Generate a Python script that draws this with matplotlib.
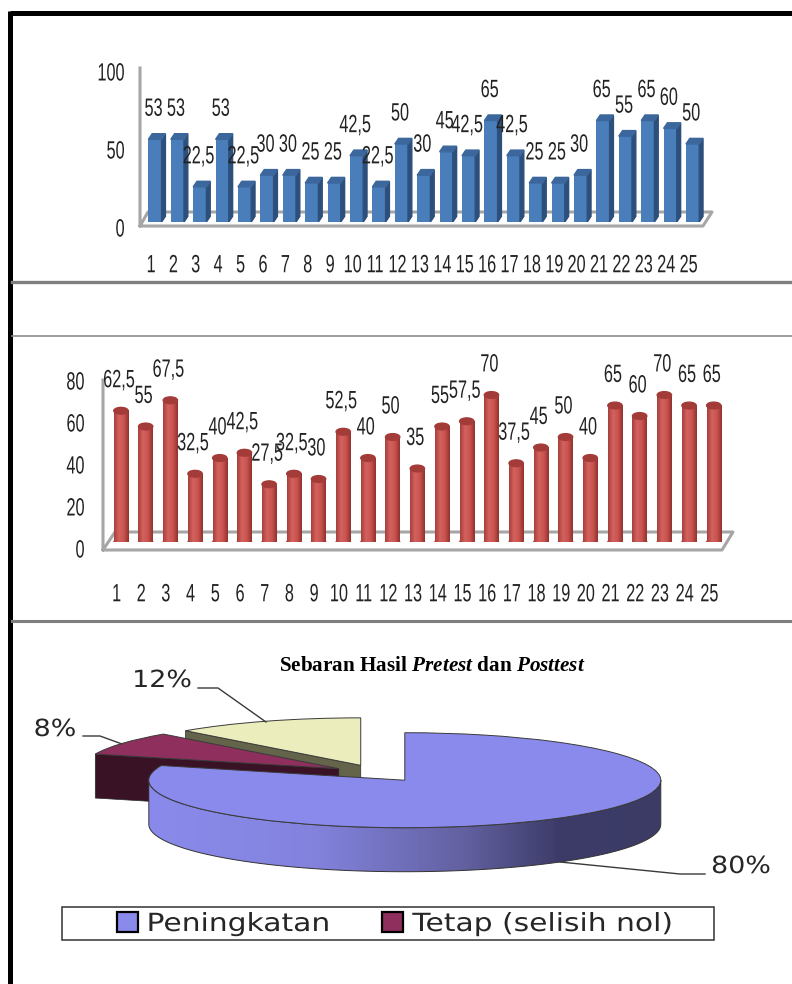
import numpy as np
import matplotlib
matplotlib.use("Agg")
import matplotlib.pyplot as plt
from matplotlib.colors import LinearSegmentedColormap
from matplotlib.patches import Ellipse, Patch, Polygon, Rectangle
from matplotlib.patheffects import AbstractPathEffect
from matplotlib.transforms import Affine2D

W, H = 792, 984

# data
hari = list(range(1, 26))
pretest = [53, 53, 22.5, 53, 22.5, 30, 30, 25, 25, 42.5, 22.5, 50, 30, 45, 42.5,
           65, 42.5, 25, 25, 30, 65, 55, 65, 60, 50]
posttest = [62.5, 55, 67.5, 32.5, 40, 42.5, 27.5, 32.5, 30, 52.5, 40, 50, 35, 55, 57.5,
            70, 37.5, 45, 50, 40, 65, 60, 70, 65, 65]
pre_ticks = [0, 50, 100]
post_ticks = [0, 20, 40, 60, 80]
pie_nilai = [80, 8, 12]
pie_label = ["80%", "8%", "12%"]
legend_label = ["Peningkatan", "Tetap (selisih nol)"]

FONT = "Liberation Sans"
SEMPIT = 0.65
plt.rcParams["mathtext.fontset"] = "custom"
plt.rcParams["mathtext.bfit"] = "Liberation Serif:italic:bold"
plt.rcParams["mathtext.rm"] = "Liberation Serif:bold"


class Regang(AbstractPathEffect):
    """Stretches a text horizontally, the source picture has squeezed/widened fonts"""
    def __init__(self, sx, anchor="center", dy=0):
        super().__init__()
        self.sx = sx
        self.anchor = anchor
        self.dy = dy

    def draw_path(self, renderer, gc, tpath, affine, rgbFace=None):
        ext = tpath.get_extents(affine)
        x0 = {"center": (ext.x0 + ext.x1) / 2, "left": ext.x0, "right": ext.x1}[self.anchor]
        a = affine + Affine2D().translate(-x0, 0).scale(self.sx, 1).translate(x0, self.dy)
        renderer.draw_path(gc, tpath, a, rgbFace)


def kotak(x0, y_top, x1, y_bot):
    # axes rectangle from pixel coordinates
    return [x0 / W, 1 - y_bot / H, (x1 - x0) / W, (y_bot - y_top) / H]


def label_angka(v):
    return f"{v:g}".replace(".", ",")


def sumbu_bar(ax, ticks, size, pad_x, pad_y, dy):
    ax.set_xticks([i - 0.18 for i in hari], [str(i) for i in hari])
    ax.set_yticks(ticks, [str(t) for t in ticks])
    ax.tick_params(length=0, labelsize=size, colors="#222222")
    ax.tick_params(axis="x", pad=pad_x)
    ax.tick_params(axis="y", pad=pad_y)
    for lab in ax.get_xticklabels():
        lab.set_family(FONT)
        lab.set_path_effects([Regang(SEMPIT)])
    for lab in ax.get_yticklabels():
        lab.set_family(FONT)
        lab.set_path_effects([Regang(SEMPIT, "right", dy)])
    for s in ax.spines.values():
        s.set_visible(False)
    ax.patch.set_alpha(0)


# frame, separators and chart floors in pixel coordinates
fig = plt.figure(figsize=(W / 100, H / 100), dpi=100)
bg = fig.add_axes([0, 0, 1, 1])
bg.set_xlim(0, W)
bg.set_ylim(H, 0)
bg.axis("off")
bg.plot([10, W], [13, 13], color="black", lw=3.6, solid_capstyle="butt")
bg.plot([10, 10], [11, H], color="black", lw=3.6, solid_capstyle="butt")
bg.plot([12, W], [282, 282], color="#7f7f7f", lw=2.4)
bg.plot([12, W], [336, 336], color="#8c8c8c", lw=1.2)
bg.plot([12, W], [621, 621], color="#7f7f7f", lw=2.2)

abu = "#a6a6a6"
bg.plot([140, 140, 703, 712, 148, 140], [68, 226, 226, 212, 212, 226], color=abu, lw=2.2)
bg.plot([103, 103, 722, 733, 115, 103], [380, 550, 550, 532, 532, 550], color=abu, lw=2.2)

# pretest: square 3d columns
ax1 = fig.add_axes(kotak(143.8, 66, 703.8, 222))
ax1.set_xlim(0.5, 25.5)
ax1.set_ylim(0, 100)
w1 = 0.59
ax1.bar(hari, pretest, width=w1, color="#4a7ebb", zorder=3)
dx, dy = 0.17, 3.6
for x, v in zip(hari, pretest):
    r = x + w1 / 2
    l = x - w1 / 2
    ax1.add_patch(Polygon([(r, 0), (r + dx, dy), (r + dx, v + dy), (r, v)], color="#2d4f7c", zorder=3))
    ax1.add_patch(Polygon([(l, v), (r, v), (r + dx, v + dy), (l + dx, v + dy)], color="#3c679c", zorder=3))
    t = ax1.annotate(label_angka(v), (x, v), xytext=(-1, 22), textcoords="offset points",
                     ha="center", va="center", fontsize=18, family=FONT, color="#222222",
                     annotation_clip=False, zorder=5)
    t.set_path_effects([Regang(SEMPIT)])
sumbu_bar(ax1, pre_ticks, 18, 22.5, 13.5, -5)

# posttest: cylinders
ax2 = fig.add_axes(kotak(108.6, 374, 726.1, 542))
ax2.set_xlim(0.5, 25.5)
ax2.set_ylim(0, 80)
w2 = 0.58
merah = LinearSegmentedColormap.from_list("merah", ["#a83f3c", "#d4625f", "#c9534f", "#93322f"])
gradien = np.linspace(0, 1, 40).reshape(1, -1)
ax2.bar(hari, posttest, width=w2, color="#c0504d", zorder=3)
for x, v in zip(hari, posttest):
    ax2.imshow(gradien, cmap=merah, extent=[x - w2 / 2, x + w2 / 2, 0, v], aspect="auto", zorder=3.1)
    ax2.add_patch(Ellipse((x, 0), w2, 2.6, color="#c0504d", zorder=3))
    ax2.add_patch(Ellipse((x, v), w2, 3.2, color="#a33b38", zorder=3.2))
    t = ax2.annotate(label_angka(v), (x, v), xytext=(-1.5, 22), textcoords="offset points",
                     ha="center", va="center", fontsize=18, family=FONT, color="#222222",
                     annotation_clip=False, zorder=5)
    t.set_path_effects([Regang(SEMPIT)])
ax2.set_xlim(0.5, 25.5)
ax2.set_ylim(0, 80)
sumbu_bar(ax2, post_ticks, 18, 29, 17, -6)

# exploded pie, one data unit = pie radius (256 x 47.5 px)
cx, cy, rx, ry = 377.7, 773.3, 256, 47.5
ax3 = fig.add_axes([0, 0, 1, 1])
warna = ["#8a8aec", "#8e2f5e", "#ecedbd"]
wedges, _ = ax3.pie(pie_nilai, explode=[0.18, 0.18, 0.18], startangle=90, counterclock=False,
                    colors=warna, radius=1, wedgeprops={"edgecolor": "#3a3a3a", "linewidth": 0.7})
ax3.set_aspect("auto")
xlim = (-cx / rx, (W - cx) / rx)
ylim = ((cy - H) / ry, cy / ry)
ax3.patch.set_alpha(0)
tebal = 44 / ry

biru, maroon, krem = wedges


def sisi_potong(wedge, warna_sisi, z):
    # radial face below the slice's left cut edge
    c = np.array(wedge.center)
    t = np.deg2rad(wedge.theta2)
    p = c + [np.cos(t), np.sin(t)]
    ax3.add_patch(Polygon([p, c, c - [0, tebal], p - [0, tebal]], facecolor=warna_sisi,
                          edgecolor="#2a2a2a", lw=0.5, zorder=z))


sisi_potong(krem, "#63644a", 1)
krem.set_zorder(2)
sisi_potong(maroon, "#3a1226", 3)
maroon.set_zorder(4)

# front wall of the big slice with a shaded gradient
t = np.deg2rad(np.linspace(-180, 0, 120))
bx = biru.center[0] + np.cos(t)
by = biru.center[1] + np.sin(t)
dinding = Polygon(np.r_[np.c_[bx, by], np.c_[bx[::-1], by[::-1] - tebal]], facecolor="none",
                  edgecolor="#333333", lw=0.7, zorder=5.2)
ax3.add_patch(dinding)
biru_cmap = LinearSegmentedColormap.from_list(
    "biru", [(0, "#8a8aec"), (0.32, "#8383de"), (0.62, "#62609f"), (0.8, "#3d3c69"), (1, "#3b3b66")])
img = ax3.imshow(np.linspace(0, 1, 200).reshape(1, -1), cmap=biru_cmap, aspect="auto", zorder=5,
                 extent=[bx.min(), bx.max(), by.min() - tebal, by.max()])
img.set_clip_path(dinding)
biru.set_zorder(6)
ax3.set_xlim(xlim)
ax3.set_ylim(ylim)
ax3.axis("off")

# leader lines and percentages, on top of the pie
lead = dict(color="#3a3a3a", lw=1.0, zorder=8)
bg2 = fig.add_axes([0, 0, 1, 1])
bg2.set_xlim(0, W)
bg2.set_ylim(H, 0)
bg2.axis("off")
bg2.plot([198, 218, 266], [688, 688, 722], **lead)
bg2.plot([83, 100, 122], [736, 736, 744], **lead)
bg2.plot([560, 680, 705], [862, 874, 874], **lead)
persen = dict(fontsize=17, family="DejaVu Sans", color="#262626", ha="center", va="center",
              path_effects=[Regang(1.14)])
bg2.text(162, 680, pie_label[2], **persen)
bg2.text(55, 729, pie_label[1], **persen)
bg2.text(741, 866, pie_label[0], **persen)

bg2.text(432, 666, r"Sebaran Hasil $\mathbfit{Pretest}$ dan $\mathbfit{Posttest}$",
         fontsize=15.2, family="Liberation Serif", weight="bold", ha="center", va="center", color="black")

# legend box
bg2.add_patch(Rectangle((62, 907), 652, 33, facecolor="white", edgecolor="#333333", lw=1.1, zorder=2))
handles = [Patch(facecolor=warna[0], edgecolor="black", lw=1.6),
           Patch(facecolor=warna[1], edgecolor="black", lw=1.6)]
leg = fig.legend(handles, legend_label, loc="center left", ncol=2, frameon=False,
                 bbox_to_anchor=(117 / W, 1 - 924 / H), borderpad=0, borderaxespad=0,
                 handlelength=0.84, handleheight=0.84, handletextpad=0.36, columnspacing=3.24,
                 prop={"family": "DejaVu Sans", "size": 18}, labelcolor="#262626")
for teks in leg.get_texts():
    teks.set_path_effects([Regang(1.19, "left")])

fig.savefig("out.png", dpi=100)
